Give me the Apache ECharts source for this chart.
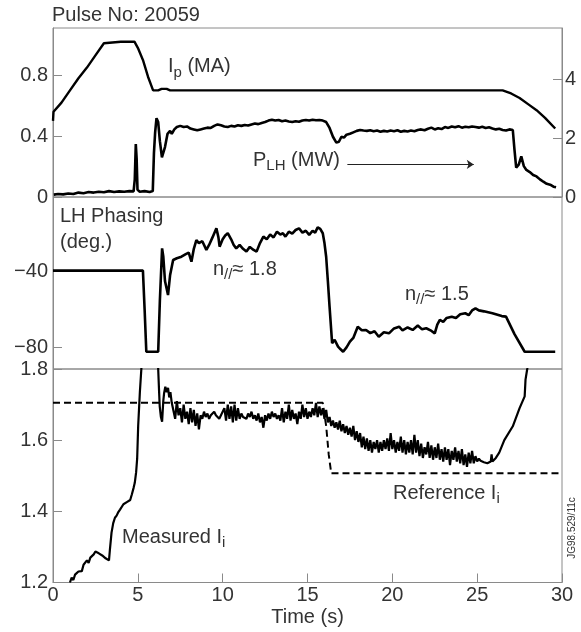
<!DOCTYPE html>
<html>
<head>
<meta charset="utf-8">
<script src="https://cdn.jsdelivr.net/npm/echarts@6/dist/echarts.min.js"></script>
<style>
html, body { margin: 0; padding: 0; background: #fff; }
#main { width: 581px; height: 632px; }
</style>
</head>
<body>
<div id="main"></div>
<script>
// values, [time (s), value]
var ipCurrent = [
  [0, 0.50], [0.03, 0.56], [0.5, 0.62], [1.0, 0.70], [1.5, 0.78], [2.0, 0.85], [2.5, 0.93],
  [3.0, 1.01], [3.1, 1.02], [4.0, 1.02], [4.8, 1.02], [5.0, 0.98], [5.3, 0.90], [5.6, 0.79],
  [5.9, 0.70], [6.2, 0.70], [6.4, 0.71], [6.7, 0.71], [6.9, 0.70], [12.0, 0.70], [12.1, 0.71],
  [12.2, 0.70], [26.5, 0.70], [27.0, 0.68], [27.5, 0.65], [28.0, 0.61], [28.5, 0.57],
  [29.0, 0.52], [29.6, 0.45]
];

var lhPower = [
  [0.05, 0.08], [0.3, 0.1], [0.6, 0.09], [0.9, 0.12], [1.2, 0.1], [1.5, 0.15], [1.8, 0.13],
  [2.1, 0.17], [2.4, 0.15], [2.7, 0.18], [3.0, 0.16], [3.3, 0.2], [3.6, 0.17], [3.9, 0.19],
  [4.2, 0.18], [4.5, 0.2], [4.75, 0.19], [4.82, 0.6], [4.88, 1.8], [4.93, 1.3], [4.98, 0.25],
  [5.1, 0.18], [5.4, 0.2], [5.7, 0.17], [5.88, 0.2], [5.95, 1.5], [6.02, 2.2], [6.1, 2.68],
  [6.2, 2.55], [6.3, 1.9], [6.42, 1.35], [6.5, 1.3], [6.6, 1.7], [6.75, 2.15], [6.9, 2.25],
  [7.0, 2.15], [7.15, 2.3], [7.3, 2.38], [7.5, 2.42], [7.7, 2.38], [7.9, 2.4], [8.1, 2.33],
  [8.3, 2.3], [8.5, 2.27], [8.7, 2.3], [8.9, 2.33], [9.1, 2.36], [9.3, 2.35], [9.5, 2.42],
  [9.7, 2.47], [9.9, 2.44], [10.1, 2.4], [10.3, 2.38], [10.5, 2.42], [10.7, 2.4], [10.9, 2.44],
  [11.1, 2.42], [11.3, 2.45], [11.5, 2.43], [11.7, 2.47], [11.9, 2.5], [12.1, 2.48], [12.3, 2.52],
  [12.5, 2.55], [12.7, 2.6], [12.9, 2.63], [13.1, 2.6], [13.3, 2.62], [13.5, 2.58], [13.7, 2.6],
  [13.9, 2.57], [14.1, 2.55], [14.3, 2.58], [14.5, 2.56], [14.7, 2.6], [14.9, 2.62], [15.1, 2.6],
  [15.3, 2.63], [15.5, 2.61], [15.7, 2.62], [15.9, 2.6], [16.1, 2.55], [16.3, 2.35], [16.5, 2.05],
  [16.7, 1.85], [16.85, 1.88], [17.0, 2.05], [17.15, 2.02], [17.3, 2.12], [17.5, 2.15],
  [17.7, 2.2], [17.9, 2.25], [18.1, 2.28], [18.3, 2.26], [18.5, 2.25], [18.7, 2.27], [18.9, 2.24],
  [19.1, 2.26], [19.3, 2.22], [19.5, 2.25], [19.7, 2.23], [19.9, 2.26], [20.1, 2.24], [20.3, 2.27],
  [20.5, 2.22], [20.7, 2.25], [20.9, 2.23], [21.1, 2.26], [21.3, 2.24], [21.5, 2.28], [21.7, 2.3],
  [21.9, 2.27], [22.1, 2.32], [22.3, 2.36], [22.5, 2.3], [22.7, 2.34], [22.9, 2.31], [23.1, 2.38],
  [23.3, 2.35], [23.5, 2.4], [23.7, 2.37], [23.9, 2.41], [24.1, 2.36], [24.3, 2.39], [24.5, 2.37],
  [24.7, 2.4], [24.9, 2.38], [25.1, 2.36], [25.3, 2.39], [25.5, 2.35], [25.7, 2.37], [25.9, 2.33],
  [26.1, 2.3], [26.3, 2.32], [26.5, 2.28], [26.7, 2.26], [26.9, 2.3], [27.1, 2.28], [27.2, 1.6],
  [27.3, 1.0], [27.45, 1.1], [27.6, 1.38], [27.75, 1.05], [27.9, 0.92], [28.1, 0.85], [28.3, 0.75],
  [28.5, 0.7], [28.7, 0.6], [28.9, 0.52], [29.1, 0.45], [29.3, 0.42], [29.5, 0.35], [29.65, 0.33]
];
var lhArrow = [[17.35, 1.11], [24.8, 1.11]];

var lhPhasing = [
  [0, -39.5], [5.3, -39.5], [5.4, -60], [5.5, -82.3], [6.2, -82.3], [6.3, -55], [6.43, -27.8],
  [6.5, -32], [6.6, -45], [6.78, -52.4], [6.9, -42], [7.08, -33.9], [7.3, -33], [7.57, -32.2],
  [7.8, -31], [8.0, -30], [8.16, -34.8], [8.3, -28], [8.45, -23.4], [8.6, -25], [8.8, -24],
  [9.04, -28.6], [9.2, -26], [9.4, -22], [9.63, -17.2], [9.75, -22], [9.82, -26.9], [10.0, -23],
  [10.15, -21], [10.3, -19.8], [10.5, -23], [10.65, -26], [10.8, -27.8], [11.0, -26], [11.2, -28],
  [11.4, -29.5], [11.6, -27], [11.8, -28.5], [12.0, -29.5], [12.2, -25], [12.4, -21.6],
  [12.6, -23], [12.8, -20.5], [13.0, -22], [13.2, -19], [13.4, -20.5], [13.55, -19.8],
  [13.7, -21.6], [13.9, -19], [14.1, -20], [14.3, -18.1], [14.5, -17.2], [14.7, -19.5],
  [14.9, -18.5], [15.1, -20.7], [15.3, -18.5], [15.45, -19.5], [15.6, -16.7], [15.75, -17.5],
  [15.9, -19.8], [16.0, -25], [16.1, -32.2], [16.2, -45], [16.3, -58.5], [16.45, -77.8],
  [16.6, -76], [16.8, -79.6], [16.95, -81], [17.1, -82.3], [17.3, -80], [17.5, -77], [17.7, -75],
  [17.96, -69.1], [18.2, -71], [18.45, -70.8], [18.7, -72.5], [18.95, -71.5], [19.2, -74.4],
  [19.5, -72], [19.8, -72.6], [20.1, -70], [20.4, -69.1], [20.6, -71], [20.9, -69.5],
  [21.2, -70.8], [21.5, -68.5], [21.75, -70.5], [22.0, -69.9], [22.25, -71], [22.5, -72.6],
  [22.65, -68], [22.8, -65.5], [23.0, -66.5], [23.2, -64.5], [23.5, -63.8], [23.75, -64.5],
  [24.0, -62.5], [24.3, -62.0], [24.5, -63], [24.7, -60.5], [24.9, -59.4], [25.1, -60.5],
  [25.4, -61], [25.65, -61.5], [25.9, -62], [26.2, -62.8], [26.45, -63.5], [26.7, -63.8],
  [27.2, -73], [27.8, -82.3], [29.6, -82.3]
];

var liMeasured = [
  [1.0, 1.2], [1.1, 1.214], [1.2, 1.207], [1.3, 1.222], [1.4, 1.218], [1.5, 1.231], [1.6, 1.236],
  [1.7, 1.232], [1.8, 1.25], [1.9, 1.247], [2.0, 1.262], [2.1, 1.255], [2.2, 1.27], [2.3, 1.266],
  [2.4, 1.279], [2.5, 1.287], [2.6, 1.29], [2.7, 1.282], [2.8, 1.286], [2.9, 1.276], [3.0, 1.274],
  [3.1, 1.268], [3.2, 1.271], [3.3, 1.262], [3.35, 1.29], [3.45, 1.34], [3.55, 1.367],
  [3.65, 1.382], [3.75, 1.388], [3.85, 1.398], [3.95, 1.405], [4.05, 1.41], [4.15, 1.42],
  [4.25, 1.418], [4.35, 1.426], [4.45, 1.428], [4.55, 1.432], [4.65, 1.448], [4.75, 1.466],
  [4.82, 1.48], [4.9, 1.51], [4.96, 1.548], [5.02, 1.64], [5.12, 1.735], [5.22, 1.81],
  [5.35, 1.95], [6.05, 1.95], [6.2, 1.8], [6.25, 1.74], [6.29, 1.695], [6.36, 1.665],
  [6.43, 1.652], [6.5, 1.71], [6.55, 1.733], [6.62, 1.75], [6.7, 1.735], [6.78, 1.747],
  [6.85, 1.72], [6.92, 1.735], [7.0, 1.705],
  [7.1, 1.70], [7.2, 1.66], [7.3, 1.71], [7.4, 1.67], [7.5, 1.69], [7.6, 1.65], [7.7, 1.70],
  [7.8, 1.66], [7.9, 1.68], [8.0, 1.645], [8.1, 1.69], [8.2, 1.65], [8.3, 1.685], [8.4, 1.64],
  [8.5, 1.675], [8.6, 1.63], [8.7, 1.67], [8.8, 1.66], [8.9, 1.68], [9.0, 1.665],
  [9.1, 1.675], [9.2, 1.66], [9.3, 1.67], [9.4, 1.665], [9.5, 1.68], [9.6, 1.67], [9.7, 1.675],
  [9.8, 1.66], [9.9, 1.67], [10.0, 1.675], [10.1, 1.69], [10.2, 1.655], [10.3, 1.70],
  [10.4, 1.66], [10.5, 1.695], [10.6, 1.65], [10.7, 1.70], [10.8, 1.655], [10.9, 1.69],
  [11.0, 1.66], [11.1, 1.675], [11.2, 1.665], [11.3, 1.67], [11.4, 1.66], [11.5, 1.675],
  [11.6, 1.665], [11.7, 1.68], [11.8, 1.66], [11.9, 1.67], [12.0, 1.655], [12.1, 1.675],
  [12.2, 1.65], [12.3, 1.665], [12.4, 1.635], [12.5, 1.67], [12.6, 1.655], [12.7, 1.675],
  [12.8, 1.66], [12.9, 1.68], [13.0, 1.665], [13.1, 1.675], [13.2, 1.66], [13.3, 1.67],
  [13.4, 1.655], [13.5, 1.69], [13.6, 1.65], [13.7, 1.68], [13.8, 1.66], [13.9, 1.70],
  [14.0, 1.655], [14.1, 1.685], [14.2, 1.66], [14.3, 1.675], [14.4, 1.645], [14.5, 1.68],
  [14.6, 1.66], [14.7, 1.70], [14.8, 1.665], [14.9, 1.69], [15.0, 1.66], [15.1, 1.68],
  [15.2, 1.665], [15.3, 1.69], [15.4, 1.67], [15.5, 1.705], [15.6, 1.665], [15.7, 1.695],
  [15.8, 1.67], [15.9, 1.69], [16.0, 1.66], [16.1, 1.685], [16.2, 1.65], [16.3, 1.665],
  [16.4, 1.64], [16.5, 1.655], [16.6, 1.635], [16.7, 1.65], [16.8, 1.63], [16.9, 1.655],
  [17.0, 1.625], [17.1, 1.645], [17.2, 1.62], [17.3, 1.64], [17.4, 1.615], [17.5, 1.635],
  [17.6, 1.61], [17.7, 1.64], [17.8, 1.6], [17.9, 1.625], [18.0, 1.595], [18.1, 1.62],
  [18.2, 1.58], [18.3, 1.61], [18.4, 1.575], [18.5, 1.605], [18.6, 1.57], [18.7, 1.6],
  [18.8, 1.565], [18.9, 1.595], [19.0, 1.575], [19.1, 1.6], [19.2, 1.565], [19.3, 1.595],
  [19.4, 1.57], [19.5, 1.6], [19.6, 1.575], [19.7, 1.605], [19.8, 1.57], [19.9, 1.62],
  [20.0, 1.575], [20.1, 1.6], [20.2, 1.565], [20.3, 1.595], [20.4, 1.57], [20.5, 1.61],
  [20.6, 1.565], [20.7, 1.6], [20.8, 1.56], [20.9, 1.595], [21.0, 1.565], [21.1, 1.6],
  [21.2, 1.56], [21.3, 1.615], [21.4, 1.565], [21.5, 1.6], [21.6, 1.555], [21.7, 1.59],
  [21.8, 1.55], [21.9, 1.58], [22.0, 1.56], [22.1, 1.595], [22.2, 1.55], [22.3, 1.585],
  [22.4, 1.545], [22.5, 1.58], [22.6, 1.55], [22.7, 1.59], [22.8, 1.545], [22.9, 1.575],
  [23.0, 1.54], [23.1, 1.58], [23.2, 1.545], [23.3, 1.575], [23.4, 1.53], [23.5, 1.57],
  [23.6, 1.545], [23.7, 1.58], [23.8, 1.54], [23.9, 1.57], [24.0, 1.535], [24.1, 1.575],
  [24.2, 1.53], [24.3, 1.56], [24.4, 1.525], [24.5, 1.565], [24.6, 1.535], [24.7, 1.57],
  [24.8, 1.535], [24.9, 1.555], [25.0, 1.54], [25.1, 1.548], [25.2, 1.542], [25.3, 1.54],
  [25.4, 1.538], [25.5, 1.536], [25.6, 1.535], [25.7, 1.536], [25.8, 1.54], [25.85, 1.56],
  [25.9, 1.54], [26.0, 1.545], [26.1, 1.55], [26.3, 1.565], [26.6, 1.6], [27.1, 1.639],
  [27.5, 1.69], [27.8, 1.723], [27.85, 1.77], [27.95, 1.8], [28.0, 1.82]
];

var liReference = [[0, 1.705], [15.9, 1.705], [16.1, 1.64], [16.25, 1.56], [16.4, 1.507], [30, 1.507]];

var ipTicks = [0, 0.4, 0.8];
var plhTicks = [0, 2, 4];
var phaseTicks = [-80, -40];
var liTicks = [1.2, 1.4, 1.6, 1.8];

var FONT = '"Liberation Sans", Arial, sans-serif';
var TEXT = '#333';
var FRAME = '#8a8a8a';

var chart = echarts.init(document.getElementById('main'));

function gridBox(top, height) {
  return { left: 53, right: 19, top: top, height: height, show: true,
    borderColor: FRAME, borderWidth: 1, containLabel: false, outerBoundsMode: 'none' };
}

function yAx(grid, pos, min, max, ticks, fmt) {
  return {
    type: 'value', gridIndex: grid, position: pos, min: min, max: max,
    splitLine: { show: false },
    axisLine: { show: true, lineStyle: { color: FRAME } },
    axisTick: { show: true, inside: true, length: 9, customValues: ticks, lineStyle: { color: FRAME } },
    axisLabel: { customValues: ticks, formatter: fmt, margin: pos === 'right' ? 3 : 5,
      color: TEXT, fontSize: 20, fontFamily: FONT }
  };
}

function hiddenX(grid) {
  return { type: 'value', gridIndex: grid, min: 0, max: 30, show: false };
}

function trace(data, xi, yi, width) {
  return { type: 'line', data: data, xAxisIndex: xi, yAxisIndex: yi, showSymbol: false,
    symbol: 'none', clip: true, lineStyle: { color: '#000', width: width } };
}

var subRich = {
  n: { fontSize: 20, lineHeight: 20, fontFamily: FONT, fill: TEXT },
  s: { fontSize: 15, lineHeight: 15, fontFamily: FONT, fill: TEXT, padding: [12, 0, 0, 0] }
};

function note(x, y, text) {
  return { type: 'text', x: x, y: y, silent: true,
    style: { text: text, rich: subRich, fontFamily: FONT, fontSize: 20, fill: TEXT, verticalAlign: 'top' } };
}

var lhSeries = trace(lhPower, 0, 1, 2.6);
lhSeries.markLine = {
  silent: true, symbol: ['none', 'arrow'], symbolSize: 7, label: { show: false },
  lineStyle: { color: '#222', width: 1, type: 'solid' },
  data: [[{ coord: lhArrow[0] }, { coord: lhArrow[1] }]]
};

var refSeries = trace(liReference, 2, 3, 2);
refSeries.lineStyle.type = [7, 4];

chart.setOption({
  animation: false,
  backgroundColor: '#fff',
  grid: [gridBox(28, 169), gridBox(197, 172), gridBox(369, 213.5)],
  xAxis: [
    hiddenX(0), hiddenX(1),
    {
      type: 'value', gridIndex: 2, min: 0, max: 30, interval: 5,
      name: 'Time (s)', nameLocation: 'middle', nameGap: 25,
      nameTextStyle: { color: TEXT, fontSize: 20, fontFamily: FONT },
      splitLine: { show: false },
      axisLine: { show: true, lineStyle: { color: FRAME } },
      axisTick: { inside: true, length: 9, lineStyle: { color: FRAME } },
      axisLabel: { margin: 3, color: TEXT, fontSize: 20, fontFamily: FONT }
    }
  ],
  yAxis: [
    yAx(0, 'left', 0, 1.11, ipTicks, function (v) { return v === 0 ? '0' : v.toFixed(1); }),
    yAx(0, 'right', 0, 5.75, plhTicks, function (v) { return String(v); }),
    yAx(1, 'left', -91.4, -0.7, phaseTicks, function (v) { return '\u2212' + Math.abs(v); }),
    yAx(2, 'left', 1.2, 1.8, liTicks, function (v) { return v.toFixed(1); })
  ],
  series: [
    trace(ipCurrent, 0, 0, 2.4),
    lhSeries,
    trace(lhPhasing, 1, 2, 2.6),
    trace(liMeasured, 2, 3, 2.2),
    refSeries
  ],
  graphic: [
    { type: 'text', x: 52, y: 15.5, silent: true,
      style: { text: 'Pulse No: 20059', fontFamily: FONT, fontSize: 20, fill: TEXT, verticalAlign: 'middle' } },
    note(168, 56.8, '{n|I}{s|p}{n| (MA)}'),
    note(253, 150.2, '{n|P}{s|LH}{n| (MW)}'),
    { type: 'text', x: 60, y: 203, silent: true,
      style: { text: 'LH Phasing\n(deg.)', fontFamily: FONT, fontSize: 20, lineHeight: 26, fill: TEXT, verticalAlign: 'top' } },
    note(213, 259, '{n|n}{s|//}{n|\u2248 1.8}'),
    note(405, 284, '{n|n}{s|//}{n|\u2248 1.5}'),
    note(122, 527.3, '{n|Measured I}{s|i}'),
    note(393, 483.2, '{n|Reference I}{s|i}'),
    { type: 'text', x: 572, y: 528, rotation: Math.PI / 2, silent: true,
      style: { text: 'JG98.529/11c', fontFamily: FONT, fontSize: 10, fill: TEXT, align: 'center', verticalAlign: 'middle' } }
  ]
});
</script>
</body>
</html>
